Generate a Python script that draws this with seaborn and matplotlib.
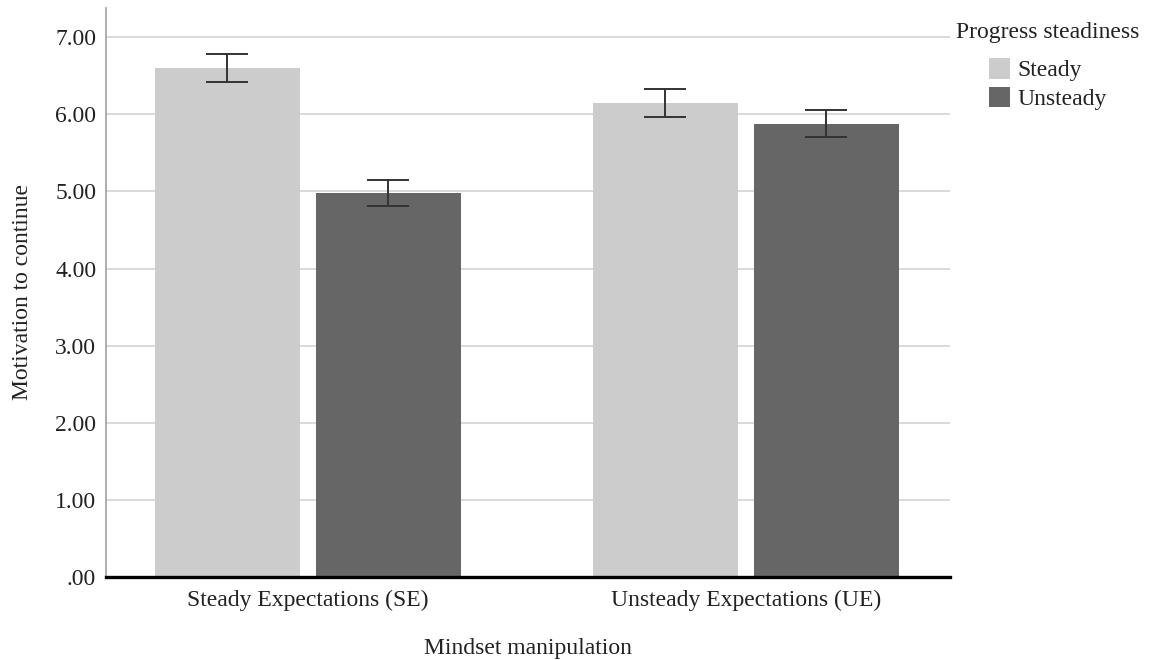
import pandas as pd
import seaborn as sns
import matplotlib.pyplot as plt
from matplotlib.ticker import FuncFormatter

# values
mindsets = ['Steady Expectations (SE)', 'Unsteady Expectations (UE)']
steadiness = ['Steady', 'Unsteady']
steady_means = [6.60, 6.15]
unsteady_means = [4.98, 5.88]
steady_err = [0.18, 0.18]
unsteady_err = [0.17, 0.18]
colors = {'Steady': '#cccccc', 'Unsteady': '#666666'}

df = pd.DataFrame({
    'Mindset manipulation': mindsets * 2,
    'Progress steadiness': ['Steady'] * 2 + ['Unsteady'] * 2,
    'Motivation to continue': steady_means + unsteady_means,
})

sns.set_style('white')
plt.rcParams['font.family'] = ['Liberation Serif', 'DejaVu Serif']

fig = plt.figure(figsize=(11.53, 6.6), dpi=100)
ax = fig.add_axes([0.0919, 0.1258, 0.7321, 0.8622])

sns.barplot(data=df, x='Mindset manipulation', y='Motivation to continue',
            hue='Progress steadiness', hue_order=steadiness, palette=colors,
            width=0.735, gap=0.1, errorbar=None, saturation=1, linewidth=0,
            ax=ax, zorder=2)

# error bars placed on the bar centers seaborn produced
for cont, errs in zip(ax.containers, [steady_err, unsteady_err]):
    xs = [p.get_x() + p.get_width() / 2 for p in cont.patches]
    ys = [p.get_height() for p in cont.patches]
    ax.errorbar(xs, ys, yerr=errs, fmt='none', ecolor='#333333',
                elinewidth=1.4, capsize=15, capthick=1.4, zorder=3)

ax.set_ylim(0, 7.38)
ax.set_xlim(-0.461, 1.466)
ax.set_yticks([0, 1, 2, 3, 4, 5, 6, 7])
ax.yaxis.set_major_formatter(FuncFormatter(lambda v, p: '.00' if v == 0 else f'{v:.2f}'))
ax.grid(axis='y', color='#d0d0d0', linewidth=1.1, zorder=0)
ax.set_axisbelow(True)
ax.tick_params(axis='both', length=0, labelsize=17, colors='#222222')
ax.tick_params(axis='y', pad=7)
ax.tick_params(axis='x', pad=9)

for s in ['top', 'right']:
    ax.spines[s].set_visible(False)
ax.spines['left'].set_color('#a0a0a0')
ax.spines['left'].set_linewidth(1.2)
ax.spines['bottom'].set_color('black')
ax.spines['bottom'].set_linewidth(2.4)
ax.spines['bottom'].set_zorder(4)

ax.set_ylabel('Motivation to continue', fontsize=17, color='#222222')
ax.set_xlabel('Mindset manipulation', fontsize=17, color='#222222')
ax.yaxis.set_label_coords(-0.086, 0.5)
ax.xaxis.set_label_coords(0.5, -0.107)

sns.move_legend(ax, 'upper left', bbox_to_anchor=(0.996, 0.992), frameon=False,
                title='Progress steadiness', fontsize=17, title_fontsize=17,
                handlelength=0.9, handleheight=0.95, handletextpad=0.3,
                labelspacing=0.22, borderaxespad=0)
leg = ax.get_legend()
leg._legend_box.sep = 11  # extra room between title and entries
for t in leg.get_texts():
    t.set_color('#222222')
leg.get_title().set_color('#222222')

fig.savefig('out.png', dpi=100)
